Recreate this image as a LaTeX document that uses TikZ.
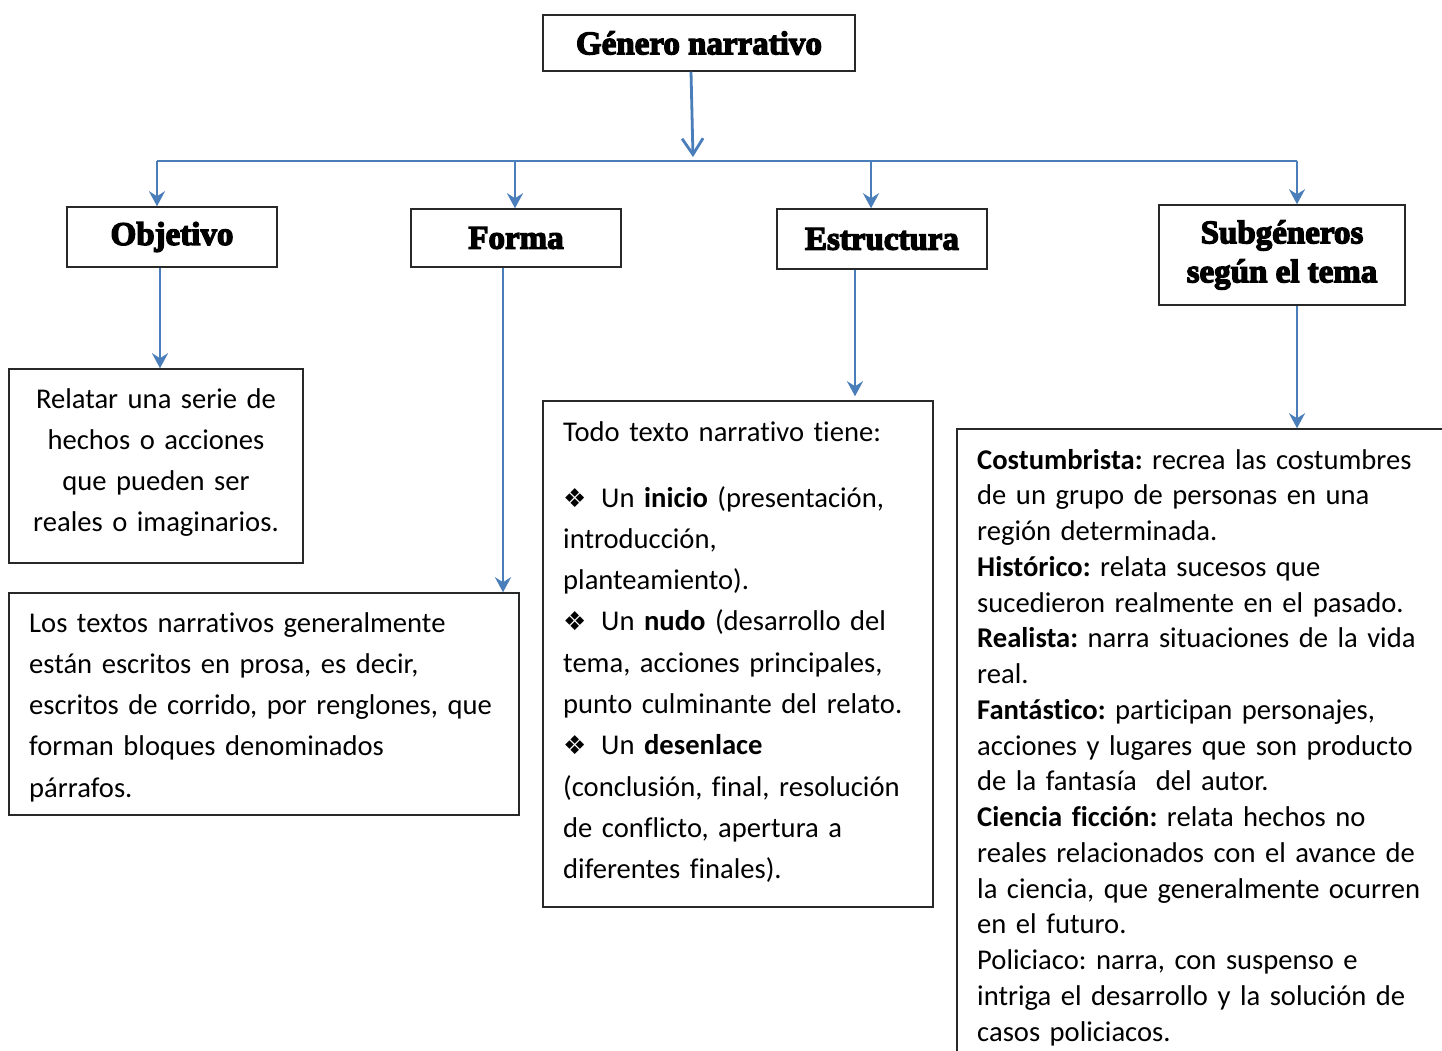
\documentclass[tikz,border=0pt]{standalone}
\usepackage{fontspec}
\setmainfont{Carlito}[Ligatures=NoCommon]
\newfontfamily\symfont{DejaVu Sans}
\newfontfamily\titlefont[BoldFeatures={FakeBold=4}]{Liberation Serif}
\usetikzlibrary{arrows.meta}
\definecolor{conblue}{RGB}{74,126,187}
\definecolor{boxline}{RGB}{40,40,40}
\newcommand{\bul}{\makebox[38pt][l]{\raisebox{0pt}{\fontsize{26}{26}\symfont ❖}}}
\frenchspacing
\begin{document}
\begin{tikzpicture}[x=1pt,y=-1pt,
  box/.style={draw=boxline,line width=1.5pt,rectangle,inner sep=0pt},
  titletext/.style={font={\titlefont\bfseries\fontsize{33}{39}\selectfont},align=center},
  conn/.style={draw=conblue,line width=2.8pt},
  tipped/.style={conn,-{Stealth[length=15pt,width=16pt,inset=5pt]}},
  bodytext/.style={inner sep=0pt,font={\frenchspacing\fontsize{28.6}{41.3}\selectfont}},
  tighttext/.style={inner sep=0pt,font={\frenchspacing\fontsize{28.6}{35.75}\selectfont}}]
\useasboundingbox (0,0) rectangle (1442,1051);
\clip (0,0) rectangle (1442,1051);
\fill[white] (0,0) rectangle (1442,1051);

% title boxes
\node[box,titletext,minimum width=312pt,minimum height=56pt] (gen) at (699,43) {Género narrativo};
\node[box,titletext,minimum width=210pt,minimum height=60pt] (obj) at (172,237) {Objetivo};
\node[box,titletext,minimum width=210pt,minimum height=58pt] (forma) at (516,238) {Forma};
\node[box,titletext,minimum width=210pt,minimum height=60pt] (estr) at (882,239) {Estructura};
\node[box,titletext,minimum width=246pt,minimum height=100pt] (sub) at (1282,255) {Subgéneros\\según el tema};

% content boxes
\node[box,minimum width=294pt,minimum height=194pt] (rel) at (156,466) {};
\node[box,minimum width=510pt,minimum height=222pt] (los) at (264,704) {};
\node[box,minimum width=390pt,minimum height=506pt] (todo) at (738,654) {};
\node[box,minimum width=513pt,minimum height=651pt] (cost) at (1213.5,754.5) {};

% texts
\node[bodytext,text width=294pt,align=center,anchor=base] (reltxt) at (156,408)
 {Relatar una serie de\\hechos o acciones\\que pueden ser\\reales o imaginarios.};
\node[bodytext,text width=490pt,align=left,anchor=base west] (lostxt) at (29,632)
 {Los textos narrativos generalmente\\están escritos en prosa, es decir,\\escritos de corrido, por renglones, que\\forman bloques denominados\\párrafos.};
\node[bodytext,text width=370pt,align=left,anchor=base west] (todotxt1) at (563,441)
 {Todo texto narrativo tiene:};
\node[bodytext,text width=370pt,align=left,anchor=base west] (todotxt2) at (563,507)
 {\bul Un \textbf{inicio} (presentación,\\introducción,\\planteamiento).\\\bul Un \textbf{nudo} (desarrollo del\\tema, acciones principales,\\punto culminante del relato.\\\bul Un \textbf{desenlace}\\(conclusión, final, resolución\\de conflicto, apertura a\\diferentes finales).};
\node[tighttext,text width=470pt,align=left,anchor=base west] (costtxt) at (977,469)
 {\textbf{Costumbrista:} recrea las costumbres\\de un grupo de personas en una\\región determinada.\\\textbf{Histórico:} relata sucesos que\\sucedieron realmente en el pasado.\\\textbf{Realista:} narra situaciones de la vida\\real.\\\textbf{Fantástico:} participan personajes,\\acciones y lugares que son producto\\de la fantasía\ \ del autor.\\\textbf{Ciencia ficción:} relata hechos no\\reales relacionados con el avance de\\la ciencia, que generalmente ocurren\\en el futuro.\\Policiaco: narra, con suspenso e\\intriga el desarrollo y la solución de\\casos policiacos.};

% connectors
\coordinate (hub) at (693,161);
\coordinate (hl) at (157,161);
\coordinate (hf) at (515,161);
\coordinate (he) at (871,161);
\coordinate (hr) at (1297,161);
\draw[conn,-{Straight Barb[length=16pt,width=21pt]}] (gen.south -| 691,0) -- ([yshift=4pt]hub);
\draw[conn] (hl) -- (hr);
\draw[tipped] (hl) -- (hl |- obj.north);
\draw[tipped] (hf) -- (hf |- forma.north);
\draw[tipped] (he) -- (he |- estr.north);
\draw[tipped] (hr) -- (hr |- sub.north);
\draw[tipped] (obj.south -| 160,0) -- (rel.north -| 160,0);
\draw[tipped] (forma.south -| 503,0) -- (los.north -| 503,0);
\draw[tipped] (estr.south -| 855,0) -- ([yshift=4pt]todo.north -| 855,0);
\draw[tipped] (sub.south -| 1297,0) -- (cost.north -| 1297,0);
\end{tikzpicture}
\end{document}
